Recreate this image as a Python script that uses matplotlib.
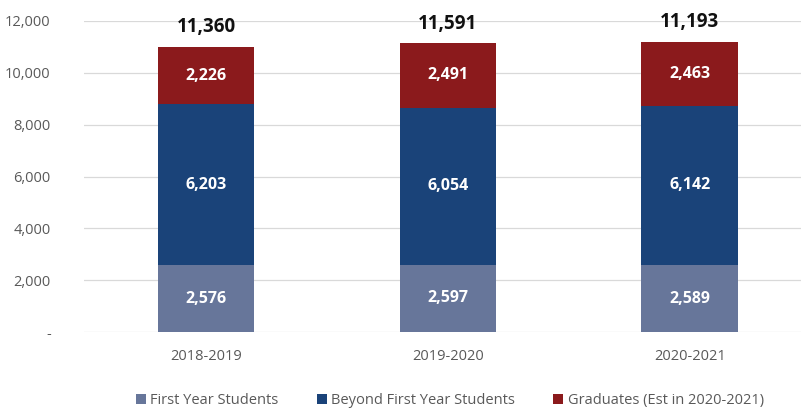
import matplotlib.pyplot as plt
import numpy as np

# Datos del gráfico
years = ["2018-2019", "2019-2020", "2020-2021"]
first_year = [2576, 2597, 2589]
beyond_first = [6203, 6054, 6142]
graduates = [2226, 2491, 2463]
totals = [11360, 11591, 11193]

colors = ["#67769A", "#1A4379", "#8B1A1C"]
names = ["First Year Students", "Beyond First Year Students", "Graduates (Est in 2020-2021)"]

plt.rcParams['font.family'] = ['Open Sans', 'DejaVu Sans']

fig = plt.figure(figsize=(8.01, 4.11), dpi=100)
ax = fig.add_axes([0.105, 0.192, 0.895, 0.757])

x = np.arange(len(years))
w = 0.4
bottom = np.zeros(len(years))
for vals, c, n in zip([first_year, beyond_first, graduates], colors, names):
    ax.bar(x, vals, w, bottom=bottom, color=c, label=n, zorder=3)
    for xi, b, v in zip(x, bottom, vals):
        ax.text(xi, b + v / 2, f"{v:,}", ha="center", va="center",
                color="white", fontsize=11.5, fontweight="bold", zorder=4)
    bottom = bottom + np.array(vals)

for xi, top, t in zip(x, bottom, totals):
    ax.text(xi, top + 750, f"{t:,}", ha="center", va="center",
            color="#111111", fontsize=13.5, fontweight="bold")

ax.set_ylim(0, 12000)
ax.set_xlim(-0.504, 2.46)
ax.set_yticks(np.arange(0, 12001, 2000))
ax.set_yticklabels(["-"] + [f"{v:,}" for v in range(2000, 12001, 2000)])
ax.set_xticks(x)
ax.set_xticklabels(years)
ax.tick_params(axis="both", length=0, colors="#595959", labelsize=10.5)
ax.tick_params(axis="y", pad=24)
ax.tick_params(axis="x", pad=12)
ax.grid(axis="y", color="#D9D9D9", linewidth=0.9, zorder=0)
for s in ax.spines.values():
    s.set_visible(False)

ax.legend(loc="center", bbox_to_anchor=(0.51, -0.22), ncol=3, frameon=False,
          fontsize=10.5, handlelength=0.7, handleheight=0.7, handletextpad=0.3,
          columnspacing=2.6, labelcolor="#595959")

fig.savefig("out.png", dpi=100)
